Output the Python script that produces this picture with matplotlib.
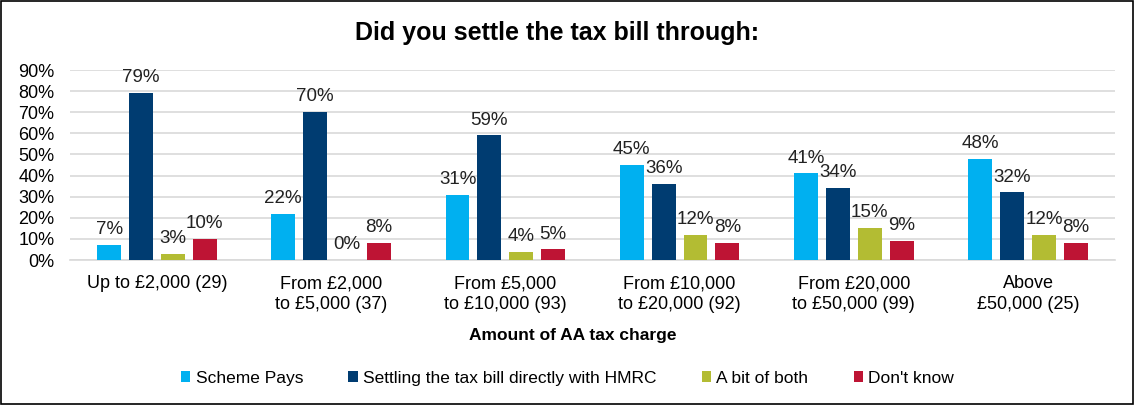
import numpy as np
import matplotlib
matplotlib.use('Agg')
import matplotlib.pyplot as plt
from matplotlib.patches import Rectangle

plt.rcParams['font.family'] = ['Liberation Sans', 'DejaVu Sans']

# survey answers by size of AA tax charge
categories = ['Up to £2,000 (29)', 'From £2,000\nto £5,000 (37)', 'From £5,000\nto £10,000 (93)',
              'From £10,000\nto £20,000 (92)', 'From £20,000\nto £50,000 (99)', 'Above\n£50,000 (25)']
scheme_pays = [7, 22, 31, 45, 41, 48]
hmrc_direct = [79, 70, 59, 36, 34, 32]
bit_of_both = [3, 0, 4, 12, 15, 12]
dont_know = [10, 8, 5, 8, 9, 8]

series = [('Scheme Pays', scheme_pays, '#00B0F0'),
          ('Settling the tax bill directly with HMRC', hmrc_direct, '#003C71'),
          ('A bit of both', bit_of_both, '#B3BC33'),
          ("Don't know", dont_know, '#BE1434')]

fig = plt.figure(figsize=(11.35, 4.05), dpi=100)
ax = fig.add_axes([0.0615, 0.358, 0.921, 0.469])

x = np.arange(len(categories))
w = 0.137
step = 0.183
for i, (name, vals, col) in enumerate(series):
    pos = x + (i - 1.5) * step
    vals = np.array(vals) / 100
    ax.bar(pos, vals, w, color=col, label=name, zorder=3)
    for p, v in zip(pos, vals):
        ax.annotate(f'{v*100:.0f}%', (p, v), xytext=(0, 5), textcoords='offset points',
                    ha='center', va='bottom', fontsize=13.5, color='#222222')

ax.set_xlim(-0.5, len(categories) - 0.5)
ax.set_ylim(0, 0.9)
ax.set_yticks(np.arange(0, 0.91, 0.1))
ax.set_yticklabels([f'{t}%' for t in range(0, 91, 10)], fontsize=13)
ax.set_xticks(x)
ax.set_xticklabels(categories, fontsize=13, linespacing=1.3)
ax.tick_params(axis='y', length=0, pad=11)
ax.tick_params(axis='x', length=0, pad=11)
ax.grid(axis='y', color='#D9D9D9', linewidth=1.2, zorder=0)
for s in ['top', 'right', 'left']:
    ax.spines[s].set_visible(False)
ax.spines['bottom'].set_color('#D9D9D9')
ax.spines['bottom'].set_linewidth(1.2)

fig.text(0.505, 0.172, 'Amount of AA tax charge', ha='center', va='center',
         fontsize=12.5, fontweight='bold')
fig.text(0.491, 0.918, 'Did you settle the tax bill through:', ha='center', va='center',
         fontsize=18, fontweight='bold')

fig.legend(loc='center', bbox_to_anchor=(0.5, 0.066), ncol=4, frameon=False,
           fontsize=12.5, handlelength=0.55, handleheight=0.55, handletextpad=0.3,
           columnspacing=2.6)

fig.patches.append(Rectangle((0.001, 0.002), 0.997, 0.996, transform=fig.transFigure,
                             fill=False, edgecolor='black', linewidth=1.2))

fig.savefig('out.png', dpi=100)
